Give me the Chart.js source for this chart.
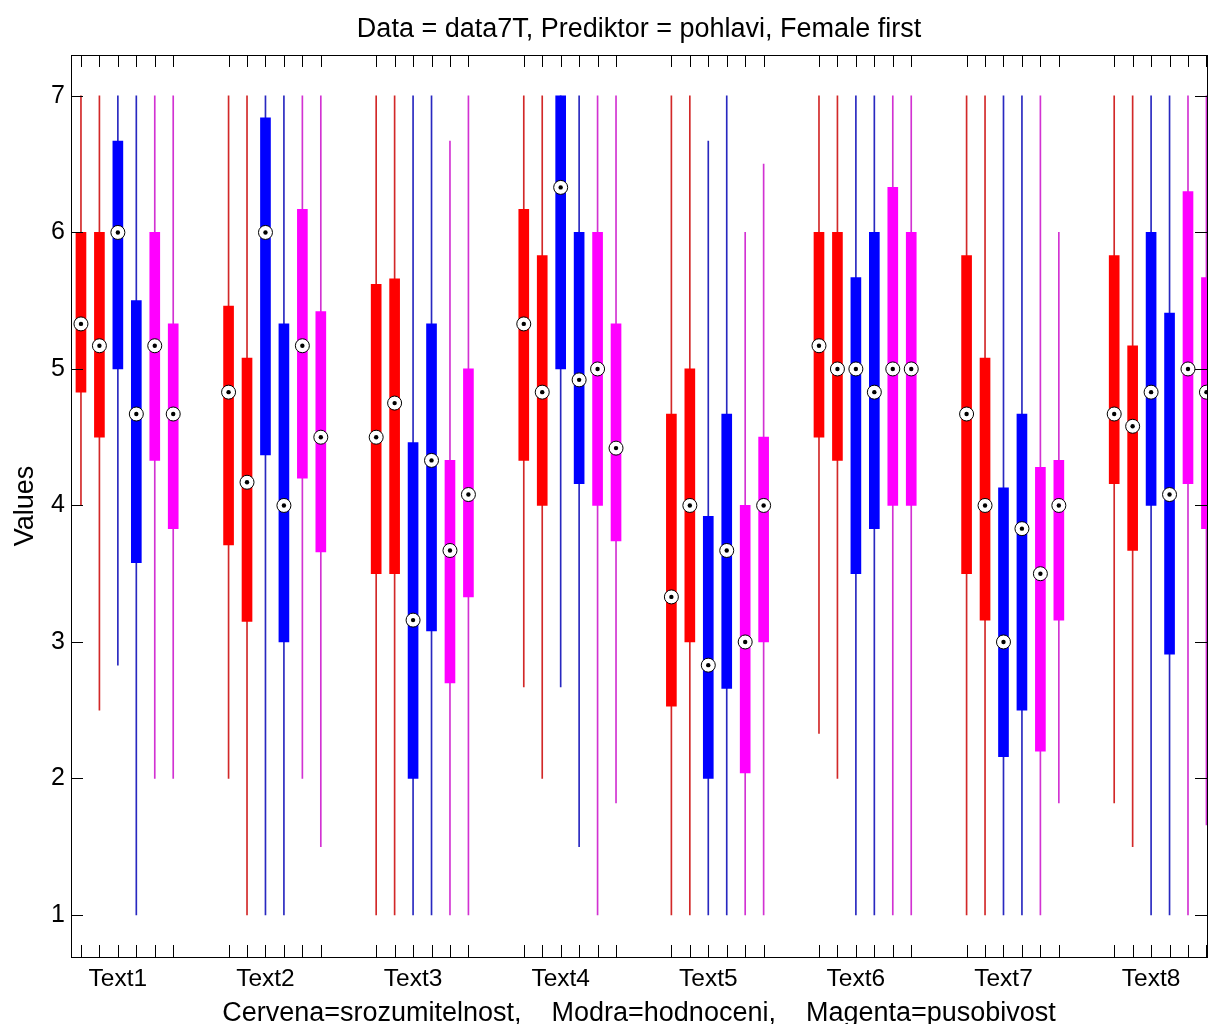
<!DOCTYPE html>
<html>
<head>
<meta charset="utf-8">
<script src="https://cdn.jsdelivr.net/npm/chart.js@4.4.0/dist/chart.umd.min.js"></script>
<style>
    html, body { margin: 0; padding: 0; background: #fff; overflow: hidden; }
    #wrap { width: 1208px; height: 1024px; }
</style>
</head>
<body>
<div id="wrap"><canvas id="boxes" width="1208" height="1024"></canvas></div>
<script>
// one row per text, one column per box: srozumitelnost F/M, hodnoceni F/M, pusobivost F/M
var categories = ['Text1', 'Text2', 'Text3', 'Text4', 'Text5', 'Text6', 'Text7', 'Text8'];
var seriesColors = ['#ff0000', '#ff0000', '#0000ff', '#0000ff', '#ff00ff', '#ff00ff'];
var whiskerColors = ['#d22828', '#d22828', '#2828c0', '#2828c0', '#d232d2', '#d232d2'];

var whiskerHigh = [
    [7, 7, 7, 7, 7, 7],
    [7, 7, 7, 7, 7, 7],
    [7, 7, 7, 7, 6.67, 7],
    [7, 7, 7, 7, 7, 7],
    [7, 7, 6.67, 7, 6, 6.5],
    [7, 7, 7, 7, 7, 7],
    [7, 7, 7, 7, 7, 6],
    [7, 7, 7, 7, 7, 7]
];
var upperQuartile = [
    [6, 6, 6.67, 5.5, 6, 5.33],
    [5.46, 5.08, 6.84, 5.33, 6.17, 5.42],
    [5.62, 5.66, 4.46, 5.33, 4.33, 5],
    [6.17, 5.83, 7, 6, 6, 5.33],
    [4.67, 5, 3.92, 4.67, 4, 4.5],
    [6, 6, 5.67, 6, 6.33, 6],
    [5.83, 5.08, 4.13, 4.67, 4.28, 4.33],
    [5.83, 5.17, 6, 5.41, 6.3, 5.67]
];
var medians = [
    [5.33, 5.17, 6, 4.67, 5.17, 4.67],
    [4.83, 4.17, 6, 4, 5.17, 4.5],
    [4.5, 4.75, 3.16, 4.33, 3.67, 4.08],
    [5.33, 4.83, 6.33, 4.92, 5, 4.42],
    [3.33, 4, 2.83, 3.67, 3, 4],
    [5.17, 5, 5, 4.83, 5, 5],
    [4.67, 4, 3, 3.83, 3.5, 4],
    [4.67, 4.58, 4.83, 4.08, 5, 4.83]
];
var lowerQuartile = [
    [4.83, 4.5, 5, 3.58, 4.33, 3.83],
    [3.71, 3.15, 4.37, 3, 4.2, 3.66],
    [3.5, 3.5, 2, 3.08, 2.7, 3.33],
    [4.33, 4, 5, 4.16, 4, 3.74],
    [2.53, 3, 2, 2.66, 2.04, 3],
    [4.5, 4.33, 3.5, 3.83, 4, 4],
    [3.5, 3.16, 2.16, 2.5, 2.2, 3.16],
    [4.16, 3.67, 4, 2.91, 4.16, 3.83]
];
var whiskerLow = [
    [4, 2.5, 2.83, 1, 2, 2],
    [2, 1, 1, 1, 2, 1.5],
    [1, 1, 1, 1, 1, 1],
    [2.67, 2, 2.67, 1.5, 1, 1.82],
    [1, 1, 1, 1, 1, 1],
    [2.33, 2, 1, 1, 1, 1],
    [1, 1, 1, 1, 1, 1.82],
    [1.82, 1.5, 1, 1, 1, 1.66]
];
var yTicks = [1, 2, 3, 4, 5, 6, 7];

var slotsPerGroup = 8;
var whiskerData = [], boxData = [], medianData = [], colors = [], lineColors = [], xTicks = [];
categories.forEach(function (name, g) {
    seriesColors.forEach(function (c, j) {
        var x = g * slotsPerGroup + j;
        xTicks.push(x);
        whiskerData.push({ x: x, y: [whiskerLow[g][j], whiskerHigh[g][j]] });
        boxData.push({ x: x, y: [lowerQuartile[g][j], upperQuartile[g][j]] });
        medianData.push({ x: x, y: medians[g][j] });
        colors.push(c);
        lineColors.push(whiskerColors[j]);
    });
});

// matlab style box: inward ticks on all four sides
var frameTicks = {
    id: 'frameTicks',
    afterDatasetsDraw: function (chart) {
        var ctx = chart.ctx, a = chart.chartArea, sx = chart.scales.x, sy = chart.scales.y;
        var len = 12;
        ctx.save();
        ctx.strokeStyle = '#000';
        ctx.lineWidth = 1;
        ctx.beginPath();
        sx.ticks.forEach(function (t) {
            var px = Math.round(sx.getPixelForValue(t.value)) + 0.5;
            ctx.moveTo(px, a.bottom); ctx.lineTo(px, a.bottom - len);
            ctx.moveTo(px, a.top); ctx.lineTo(px, a.top + len);
        });
        sy.ticks.forEach(function (t) {
            var py = Math.round(sy.getPixelForValue(t.value)) + 0.5;
            ctx.moveTo(a.left, py); ctx.lineTo(a.left + len, py);
            ctx.moveTo(a.right, py); ctx.lineTo(a.right - len, py);
        });
        ctx.stroke();
        ctx.strokeRect(Math.round(a.left) + 0.5, Math.round(a.top) + 0.5, Math.round(a.right - a.left), Math.round(a.bottom - a.top));
        ctx.restore();
    }
};

Chart.defaults.font.family = '"Liberation Sans", Arial, Helvetica, sans-serif';
Chart.defaults.color = '#000';

var chart = new Chart(document.getElementById('boxes'), {
    type: 'bar',
    data: {
        datasets: [{
            label: 'whiskers',
            data: whiskerData,
            backgroundColor: lineColors,
            barThickness: 1,
            grouped: false,
            clip: false,
            order: 4
        }, {
            label: 'boxes',
            data: boxData,
            backgroundColor: colors,
            barThickness: 10,
            grouped: false,
            clip: false,
            order: 3
        }, {
            type: 'scatter',
            label: 'median',
            data: medianData,
            pointRadius: 7,
            pointBackgroundColor: '#fff',
            pointBorderColor: '#000',
            pointBorderWidth: 1,
            clip: false,
            order: 2
        }, {
            type: 'scatter',
            label: 'median dot',
            data: medianData,
            pointRadius: 2.2,
            pointBackgroundColor: '#000',
            pointBorderWidth: 0,
            clip: false,
            order: 1
        }]
    },
    options: {
        responsive: false,
        animation: false,
        layout: { autoPadding: false, padding: { left: 0, right: 1, top: 0, bottom: 0 } },
        plugins: {
            legend: { display: false },
            tooltip: { enabled: false },
            title: {
                display: true,
                fullSize: false,
                text: 'Data = data7T, Prediktor = pohlavi, Female first',
                font: { size: 27, weight: 'normal' },
                padding: { top: 13.6, bottom: 9 }
            }
        },
        scales: {
            x: {
                type: 'linear',
                offset: false,
                min: -0.54,
                max: 61.03,
                grid: { display: false, drawTicks: false },
                border: { display: false },
                afterBuildTicks: function (scale) {
                    scale.ticks = xTicks.map(function (v) { return { value: v }; });
                },
                afterFit: function (scale) { scale.height = 67; },
                ticks: {
                    autoSkip: false,
                    maxRotation: 0,
                    padding: 0,
                    font: { size: 24.5, lineHeight: 1.85 },
                    callback: function (value, index) {
                        return index % seriesColors.length === 2 ? categories[Math.floor(index / seriesColors.length)] : '';
                    }
                },
                title: {
                    display: true,
                    text: 'Cervena=srozumitelnost,    Modra=hodnoceni,    Magenta=pusobivost',
                    font: { size: 27, lineHeight: 0.8 },
                    padding: { top: 0, bottom: 0 }
                }
            },
            y: {
                min: 0.692,
                max: 7.3,
                grid: { display: false, drawTicks: false },
                border: { display: false },
                afterBuildTicks: function (scale) {
                    scale.ticks = yTicks.map(function (v) { return { value: v }; });
                },
                afterFit: function (scale) { scale.width = 71; },
                ticks: { padding: 6, font: { size: 25 } },
                title: {
                    display: true,
                    text: 'Values',
                    font: { size: 27 },
                    padding: { top: 9, bottom: 0 }
                }
            }
        }
    },
    plugins: [frameTicks]
});
</script>
</body>
</html>
